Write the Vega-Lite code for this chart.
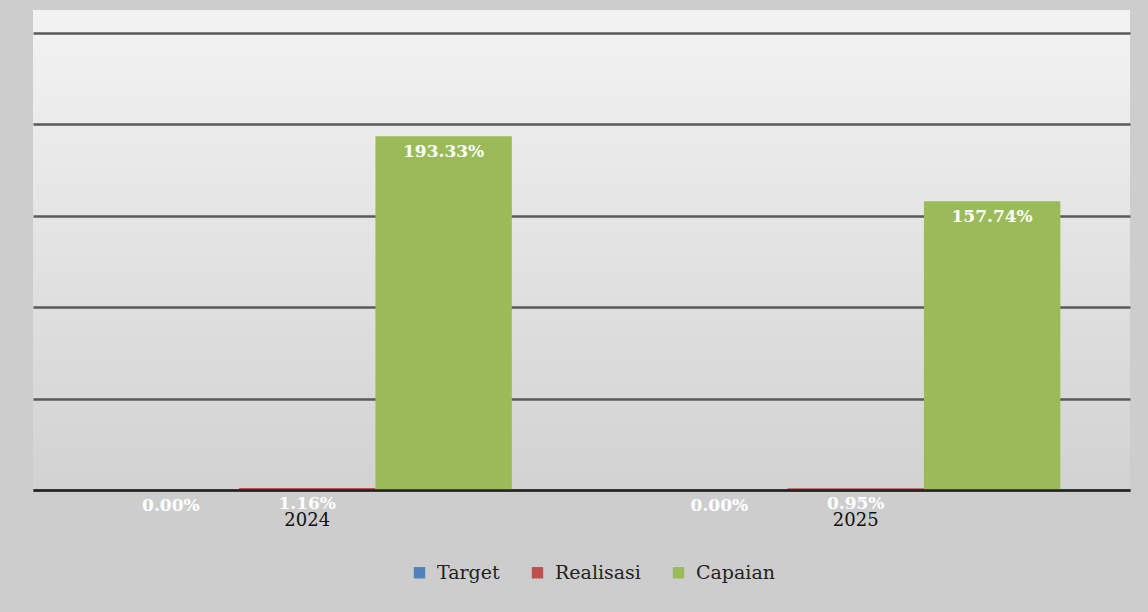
{
  "$schema": "https://vega.github.io/schema/vega-lite/v6.json",
  "width": 1097,
  "height": 480,
  "autosize": {"type": "none"},
  "padding": {"left": 33, "top": 10, "right": 18, "bottom": 122},
  "background": "#cdcdcd",
  "config": {
    "font": "DejaVu Serif",
    "view": {
      "stroke": null,
      "fill": {
        "gradient": "linear", "x1": 0, "y1": 0, "x2": 0, "y2": 1,
        "stops": [
          {"offset": 0, "color": "#f3f3f3"},
          {"offset": 1, "color": "#d2d2d2"}
        ]
      }
    }
  },
  "data": {
    "values": [
      {"year": "2024", "series": "Target", "value": 0, "label": "0.00%"},
      {"year": "2024", "series": "Realisasi", "value": 1.16, "label": "1.16%"},
      {"year": "2024", "series": "Capaian", "value": 193.33, "label": "193.33%"},
      {"year": "2025", "series": "Target", "value": 0, "label": "0.00%"},
      {"year": "2025", "series": "Realisasi", "value": 0.95, "label": "0.95%"},
      {"year": "2025", "series": "Capaian", "value": 157.74, "label": "157.74%"}
    ]
  },
  "encoding": {
    "x": {
      "field": "year", "type": "nominal",
      "scale": {"paddingInner": 0.254, "paddingOuter": 0.127},
      "axis": {
        "title": null, "ticks": false, "labelAngle": 0,
        "labelFont": "DejaVu Serif", "labelFontSize": 18, "labelColor": "#111",
        "labelPadding": 21, "domainColor": "#222", "domainWidth": 2.5, "zindex": 1
      }
    },
    "xOffset": {
      "field": "series", "type": "nominal",
      "sort": ["Target", "Realisasi", "Capaian"],
      "scale": {"paddingInner": 0, "paddingOuter": 0}
    },
    "y": {
      "field": "value", "type": "quantitative",
      "scale": {"domain": [0, 262.3], "nice": false},
      "axis": {
        "title": null, "labels": false, "ticks": false, "domain": false,
        "values": [0, 50, 100, 150, 200, 250],
        "gridColor": "#5a5a5a", "gridWidth": 2.5, "gridOpacity": 1
      }
    }
  },
  "layer": [
    {
      "mark": {"type": "bar"},
      "encoding": {
        "color": {
          "field": "series", "type": "nominal",
          "sort": ["Target", "Realisasi", "Capaian"],
          "scale": {"domain": ["Target", "Realisasi", "Capaian"], "range": ["#4f81bd", "#c0504d", "#9bbb59"]},
          "legend": {
            "title": null, "orient": "none", "legendX": 377, "legendY": 553, "direction": "horizontal",
            "symbolType": "square", "symbolSize": 130, "symbolStrokeWidth": 0,
            "labelFont": "DejaVu Serif", "labelFontSize": 19, "labelColor": "#222",
            "columnPadding": 28, "labelOffset": 8
          }
        }
      }
    },
    {
      "mark": {"type": "text", "color": "#ffffff", "fontWeight": "bold", "fontSize": 17, "font": "DejaVu Serif", "baseline": "middle", "dy": 16},
      "encoding": {"text": {"field": "label"}}
    }
  ]
}
